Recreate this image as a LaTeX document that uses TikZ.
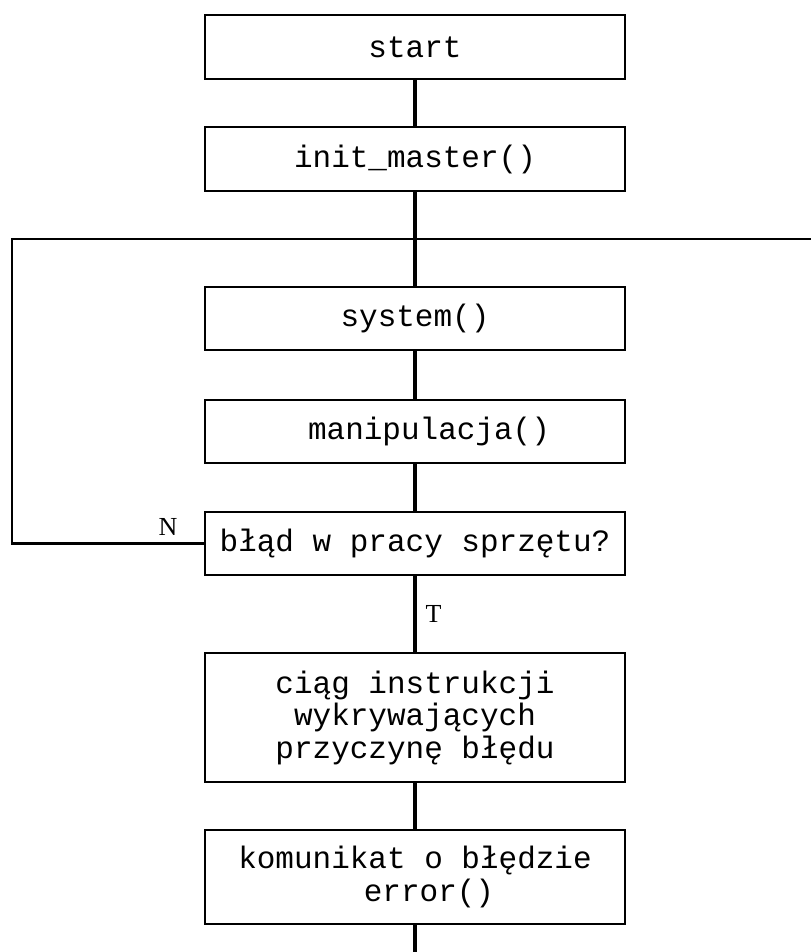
\documentclass[tikz,border=0pt]{standalone}
\usepackage{fontspec}
\setmonofont{Liberation Mono}
\newfontfamily\lblfont{Liberation Serif}
\begin{document}
\begin{tikzpicture}[x=1pt,y=-1pt,
  box/.style={draw,line width=2.6pt,minimum width=420pt,inner sep=0pt,
    font=\ttfamily\fontsize{31}{32.5}\selectfont,align=center},
  conn/.style={line width=3.2pt},
  lbl/.style={font=\lblfont\fontsize{26}{28}\selectfont,inner sep=0pt}]
\useasboundingbox (0,0) rectangle (811,952);
\node[box,minimum height=64pt] (start) at (415,47) {start};
\node[box,minimum height=64pt] (init) at (415,159) {init\_master()};
\node[box,minimum height=63pt] (sys) at (415,318.5) {system()};
\node[box,minimum height=63pt] (manip) at (415,431.5) {\hspace*{28pt}manipulacja()};
\node[box,minimum height=63pt] (blad) at (415,543.5) {błąd w pracy sprzętu?};
\node[box,minimum height=129pt] (ciag) at (415,717.5) {ciąg instrukcji\\wykrywających\\przyczynę błędu};
\node[box,minimum height=94pt] (kom) at (415,877) {komunikat o błędzie\\\hspace*{28pt}error()};
\coordinate (loopL) at (12,239);
\coordinate (loopR) at (811,239);
\coordinate (bottom) at (415,952);
\draw[conn] (start) -- (init);
\draw[conn] (init) -- (sys);
\draw[conn] (sys) -- (manip);
\draw[conn] (manip) -- (blad);
\draw[conn] (blad) -- node[lbl,right=9pt] (T) {T} (ciag);
\draw[conn] (ciag) -- (kom);
\draw[conn] (kom) -- (bottom);
\draw[line width=2.2pt] (blad.west) -- (blad.west -| loopL) -- (loopL) -- (loopR);
\node[lbl] (N) at (168,527) {N};
\end{tikzpicture}
\end{document}
